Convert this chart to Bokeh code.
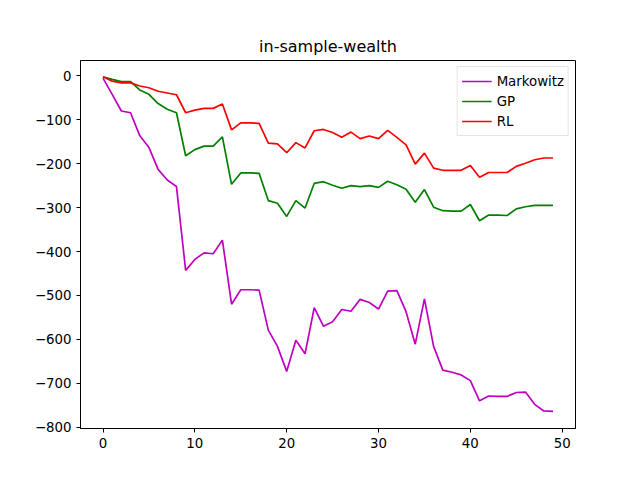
from bokeh.plotting import figure
from bokeh.models import Range1d, FixedTicker
from bokeh.embed import file_html
from bokeh.resources import INLINE

steps = list(range(50))
markowitz = [-5, -42, -80, -84, -136, -163, -213, -237, -252, -443, -418, -403, -405, -374, -520,
             -487, -487, -488, -579, -616, -673, -602, -633, -528, -570, -560, -532, -536, -509, -516,
             -531, -490, -489, -537, -611, -508, -616, -670, -675, -681, -694, -740, -729, -730, -730,
             -721, -720, -748, -763, -764]
gp = [-2, -8, -13, -13, -32, -42, -63, -76, -84, -182, -168, -160, -160, -139, -247,
      -221, -221, -222, -284, -290, -320, -284, -301, -245, -241, -249, -256, -250, -252, -250,
      -254, -240, -248, -258, -288, -259, -299, -307, -308, -308, -293, -330, -317, -317, -318,
      -303, -298, -295, -295, -295]
rl = [-2, -12, -16, -16, -23, -27, -35, -39, -43, -84, -78, -74, -74, -64, -123,
      -107, -107, -108, -153, -155, -175, -152, -164, -125, -122, -129, -140, -128, -143, -137,
      -143, -124, -140, -157, -201, -176, -210, -215, -215, -215, -204, -231, -220, -220, -220,
      -206, -199, -191, -187, -187]

p = figure(width=624, height=464, output_backend="svg", toolbar_location=None,
           title="in-sample-wealth", x_range=Range1d(-2.45, 51.45), y_range=Range1d(-803, 35),
           min_border_left=80, min_border_right=49, min_border_top=60, min_border_bottom=36)
p.title.align = "center"
p.title.text_font = "DejaVu Sans"
p.title.text_font_size = "12pt"
p.title.text_font_style = "normal"
p.title.text_color = "black"

p.line(steps, markowitz, color="#bf00bf", line_width=1.7, legend_label="Markowitz")
p.line(steps, gp, color="green", line_width=1.7, legend_label="GP")
p.line(steps, rl, color="red", line_width=1.7, legend_label="RL")

p.xgrid.visible = False
p.ygrid.visible = False
p.outline_line_color = "black"
p.xaxis.ticker = FixedTicker(ticks=[0, 10, 20, 30, 40, 50])
p.yaxis.ticker = FixedTicker(ticks=list(range(-800, 1, 100)))
for ax in (p.xaxis, p.yaxis):
    ax.minor_tick_line_color = None
    ax.major_label_text_font = "DejaVu Sans"
    ax.major_label_text_font_size = "10pt"
    ax.major_label_text_color = "black"
    ax.major_tick_out = 4
    ax.major_tick_in = 0
    ax.axis_line_color = "black"

p.legend.location = "top_right"
p.legend.label_text_font = "DejaVu Sans"
p.legend.label_text_font_size = "10pt"
p.legend.label_text_color = "black"
p.legend.border_line_color = "#cccccc"
p.legend.padding = 4
p.legend.spacing = 0
p.legend.margin = 6
p.legend.glyph_width = 30

open("out.html", "w").write(file_html(p, INLINE))
